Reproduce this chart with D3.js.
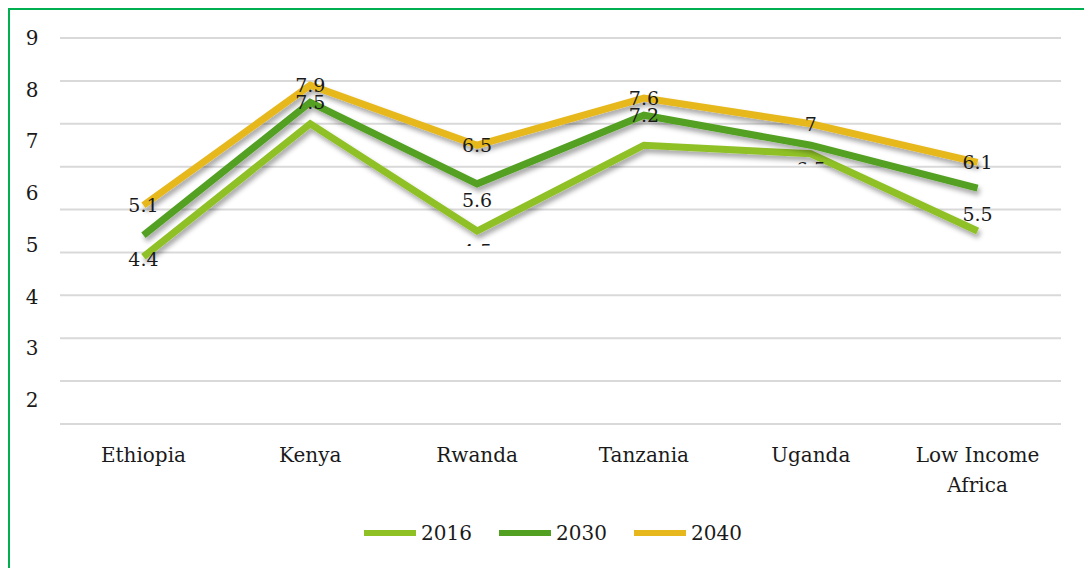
<!DOCTYPE html>
<html>
<head>
<meta charset="utf-8">
<script src="https://cdn.jsdelivr.net/npm/d3@7"></script>
<style>
  html, body { margin: 0; padding: 0; background: #fff; }
  svg { display: block; }
  text { font-family: "DejaVu Serif", "Liberation Serif", serif; fill: #1a1a1a; }
</style>
</head>
<body>
<svg id="chart" width="1084" height="568"></svg>
<script>
// ---- data ----
const categories = ["Ethiopia", "Kenya", "Rwanda", "Tanzania", "Uganda", "Low Income Africa"];
const seriesNames = ["2016", "2030", "2040"];
const values2016 = [3.9, 7.0, 4.5, 6.5, 6.3, 4.5];
const values2030 = [4.4, 7.5, 5.6, 7.2, 6.5, 5.5];
const values2040 = [5.1, 7.9, 6.5, 7.6, 7.0, 6.1];
const yTickLabels = [9, 8, 7, 6, 5, 4, 3, 2];
const gridValues = [0, 1, 2, 3, 4, 5, 6, 7, 8, 9];

// ---- setup ----
const svg = d3.select("#chart");
const colors = { "2016": "#8fc125", "2030": "#52a021", "2040": "#e6b81e" };
const series = [
  { name: "2016", values: values2016 },
  { name: "2030", values: values2030 },
  { name: "2040", values: values2040 }
];

const plotLeft = 60, plotRight = 1061, plotTop = 38, plotBottom = 424;
const x = d3.scalePoint().domain(categories).range([plotLeft, plotRight]).padding(0.5);
const y = d3.scaleLinear().domain([0, 9]).range([plotBottom, plotTop]);
// tick label overlay (as drawn in the original, not aligned to gridlines)
const yLab = d3.scaleLinear().domain([2, 9]).range([400, 38]);

// frame
svg.append("rect")
  .attr("x", 9).attr("y", 9).attr("width", 1100).attr("height", 600)
  .attr("fill", "none").attr("stroke", "#00b050").attr("stroke-width", 2);

// drop shadow filter
const defs = svg.append("defs");
const f = defs.append("filter").attr("id", "shadow")
  .attr("x", "-10%").attr("y", "-20%").attr("width", "120%").attr("height", "160%");
f.append("feDropShadow").attr("dx", 2).attr("dy", 4).attr("stdDeviation", 2.5)
  .attr("flood-color", "#000").attr("flood-opacity", 0.35);

// gridlines
svg.append("g").selectAll("line").data(gridValues).join("line")
  .attr("x1", plotLeft).attr("x2", plotRight)
  .attr("y1", d => y(d)).attr("y2", d => y(d))
  .attr("stroke", "#d9d9d9").attr("stroke-width", 2);

// y tick labels
svg.append("g").selectAll("text").data(yTickLabels).join("text")
  .attr("x", 32).attr("y", d => yLab(d))
  .attr("text-anchor", "middle").attr("dominant-baseline", "central")
  .attr("font-size", 20)
  .text(d => d);

// category labels
const catG = svg.append("g");
categories.forEach(c => {
  const words = c === "Low Income Africa" ? ["Low Income", "Africa"] : [c];
  const t = catG.append("text").attr("x", x(c)).attr("y", 462)
    .attr("text-anchor", "middle").attr("font-size", 20);
  words.forEach((w, i) => t.append("tspan").attr("x", x(c)).attr("dy", i === 0 ? 0 : 30).text(w));
});

// lines
const line = d3.line().x((d, i) => x(categories[i])).y(d => y(d));
svg.append("g").selectAll("path").data(series).join("path")
  .attr("d", d => line(d.values))
  .attr("fill", "none")
  .attr("stroke", d => colors[d.name])
  .attr("stroke-width", 7)
  .attr("stroke-linejoin", "miter")
  .attr("filter", "url(#shadow)");

// data labels (placement as in original: centered on point or below it; some clipped/hidden)
const placement = {
  "2040": ["c", "c", "c", "c", "c", "c"],
  "2030": ["b", "c", "b", "c", "bclip", "b"],
  "2016": [null, null, "bclip", null, null, null]
};
const belowOffset = { "2030": [24, 0, 16, 0, 24, 26], "2016": [0, 0, 20, 0, 0, 0] };
const labG = svg.append("g");
series.forEach(s => {
  s.values.forEach((v, i) => {
    const mode = placement[s.name][i];
    if (!mode) return;
    const cx = x(categories[i]);
    let cy = y(v);
    if (mode !== "c") cy += belowOffset[s.name][i];
    const t = labG.append("text")
      .attr("x", cx).attr("y", cy)
      .attr("text-anchor", "middle").attr("dominant-baseline", "central")
      .attr("font-size", 19)
      .text(v);
    if (mode === "bclip") {
      const id = "clip-" + s.name + "-" + i;
      defs.append("clipPath").attr("id", id).append("rect")
        .attr("x", cx - 30).attr("y", cy - 12).attr("width", 60).attr("height", 7);
      t.attr("clip-path", "url(#" + id + ")");
    }
  });
});

// legend
const legendItems = [{ name: "2016", x: 364 }, { name: "2030", x: 499 }, { name: "2040", x: 634 }];
const lg = svg.append("g");
legendItems.forEach(it => {
  lg.append("line").attr("x1", it.x).attr("x2", it.x + 52).attr("y1", 533).attr("y2", 533)
    .attr("stroke", colors[it.name]).attr("stroke-width", 6);
  lg.append("text").attr("x", it.x + 57).attr("y", 533)
    .attr("dominant-baseline", "central").attr("font-size", 20).text(it.name);
});
</script>
</body>
</html>
